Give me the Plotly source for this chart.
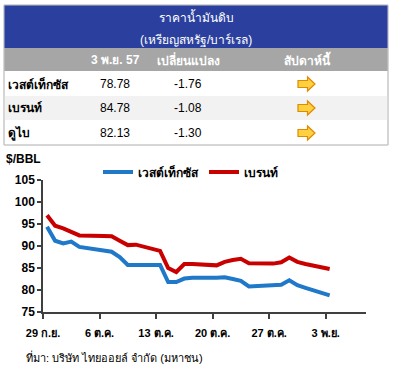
import plotly.graph_objects as go

# ---------------- data ----------------
dates = ["2014-09-29", "2014-09-30", "2014-10-01", "2014-10-02", "2014-10-03",
         "2014-10-06", "2014-10-07", "2014-10-08", "2014-10-09", "2014-10-10",
         "2014-10-13", "2014-10-14", "2014-10-15", "2014-10-16", "2014-10-17",
         "2014-10-20", "2014-10-21", "2014-10-22", "2014-10-23", "2014-10-24",
         "2014-10-27", "2014-10-28", "2014-10-29", "2014-10-30", "2014-10-31",
         "2014-11-03"]
wti = [94.4, 91.2, 90.6, 91.0, 89.8,
       89.0, 88.7, 87.5, 85.7, 85.7,
       85.7, 81.8, 81.8, 82.6, 82.8,
       82.8, 82.9, 82.5, 82.1, 80.8,
       81.0, 81.2, 82.2, 81.1, 80.5,
       78.78]
brent = [97.0, 94.6, 94.0, 93.3, 92.4,
         92.3, 92.2, 91.2, 90.2, 90.3,
         88.9, 85.0, 84.1, 85.9, 85.9,
         85.6, 86.4, 86.8, 87.1, 86.1,
         86.0, 86.3, 87.4, 86.4, 85.9,
         84.78]
series_names = ["เวสต์เท็กซัส", "เบรนท์"]
tick_dates = ["2014-09-29", "2014-10-06", "2014-10-13", "2014-10-20", "2014-10-27", "2014-11-03"]
tick_labels = ["29 ก.ย.", "6 ต.ค.", "13 ต.ค.", "20 ต.ค.", "27 ต.ค.", "3 พ.ย."]

table_title = ["ราคาน้ำมันดิบ", "(เหรียญสหรัฐ/บาร์เรล)"]
table_headers = ["3 พ.ย. 57", "เปลี่ยนแปลง", "สัปดาห์นี้"]
table_names = ["เวสต์เท็กซัส", "เบรนท์", "ดูไบ"]
table_prices = ["78.78", "84.78", "82.13"]
table_changes = ["-1.76", "-1.08", "-1.30"]
source_text = "ที่มา: บริษัท ไทยออยล์ จำกัด (มหาชน)"

# ---------------- layout helpers ----------------
W, H = 393, 366
L, R, T, B = 43, 366, 180, 312
FONT = "Liberation Sans, Arial, sans-serif"


def px(x):
    return (x - L) / (R - L)


def py(y):
    return (B - y) / (B - T)


x_pts = [d + " 12:00" for d in dates]

fig = go.Figure()
fig.add_trace(go.Scatter(x=x_pts, y=wti, mode="lines", name=series_names[0],
                         line=dict(color="#1f78c8", width=4)))
fig.add_trace(go.Scatter(x=x_pts, y=brent, mode="lines", name=series_names[1],
                         line=dict(color="#c80000", width=4)))

shapes = []
annotations = []


def rect(x0, y0, x1, y1, fill, line_color=None, lw=0):
    shapes.append(dict(type="rect", xref="paper", yref="paper",
                       x0=px(x0), x1=px(x1), y0=py(y1), y1=py(y0),
                       fillcolor=fill, layer="below",
                       line=dict(color=line_color or fill, width=lw)))


def text(x, y, s, size=12, color="#000", bold=False, xanchor="center", family=FONT):
    annotations.append(dict(xref="paper", yref="paper", x=px(x), y=py(y),
                            text=("<b>%s</b>" % s) if bold else s,
                            showarrow=False, xanchor=xanchor, yanchor="middle",
                            font=dict(family=family, size=size, color=color)))


# table background
rect(4, 5, 388, 145, "#ffffff", "#c8c8c8", 1)
rect(4, 5, 388, 48, "#2b3f9e")
rect(4, 48, 388, 71, "#a6a6a6")
rect(4.5, 96, 387.5, 120, "#f2f2f2")
rect(4, 5, 388, 145, "rgba(0,0,0,0)", "#c8c8c8", 1)

text(196, 17, table_title[0], 12, "#ffffff")
text(196, 40, table_title[1], 12, "#ffffff")
col_x = [115, 188, 307]
for cx, h in zip(col_x, table_headers):
    text(cx, 60, h, 12, "#ffffff", bold=True)
row_y = [84, 108, 133]
for ry, nm, pr, ch in zip(row_y, table_names, table_prices, table_changes):
    text(6, ry, nm, 12, "#000000", bold=True, xanchor="left")
    text(col_x[0], ry, pr, 12, "#000000")
    text(col_x[1], ry, ch, 12, "#000000")
    # arrow icon
    ax, ay = col_x[2] - 1, ry
    pts = [(ax - 8, ay - 3.5), (ax + 1.5, ay - 3.5), (ax + 1.5, ay - 7), (ax + 9, ay),
           (ax + 1.5, ay + 7), (ax + 1.5, ay + 3.5), (ax - 8, ay + 3.5)]
    path = "M " + " L ".join("%f,%f" % (px(p[0]), py(p[1])) for p in pts) + " Z"
    shapes.append(dict(type="path", xref="paper", yref="paper", path=path,
                       fillcolor="#ffd040", line=dict(color="#e08a00", width=1.2)))

text(4, 159, "$/BBL", 12, "#000000", bold=True, xanchor="left")
text(24, 357, source_text, 11, "#000000", xanchor="left")

fig.update_layout(
    width=W, height=H,
    margin=dict(l=L, r=W - R, t=T, b=H - B),
    paper_bgcolor="#ffffff", plot_bgcolor="#ffffff",
    font=dict(family=FONT, size=12, color="#000000"),
    shapes=shapes, annotations=annotations,
    showlegend=True,
    legend=dict(orientation="h", x=px(98), y=py(172), xanchor="left", yanchor="middle",
                font=dict(family=FONT, size=12, color="#000000", weight="bold"),
                bgcolor="rgba(0,0,0,0)", itemwidth=30, tracegroupgap=0),
    xaxis=dict(type="date", range=["2014-09-29", "2014-11-08"],
               tickmode="array", tickvals=tick_dates, ticktext=tick_labels,
               ticks="outside", ticklen=5, tickcolor="#404040", tickwidth=1.5,
               showline=True, linecolor="#404040", linewidth=1.5,
               showgrid=False, zeroline=False, fixedrange=True,
               ticklabelstandoff=5,
               tickfont=dict(family=FONT, size=11, color="#000000", weight="bold")),
    yaxis=dict(range=[75, 105], tick0=75, dtick=5,
               ticks="outside", ticklen=4, tickcolor="#404040", tickwidth=1.5,
               showline=True, linecolor="#404040", linewidth=1.5,
               showgrid=False, zeroline=False, fixedrange=True,
               tickfont=dict(family=FONT, size=12, color="#000000", weight="bold")),
)

fig.write_html("out.html", config={"displayModeBar": False},
               post_script="document.body.style.margin='0';")
